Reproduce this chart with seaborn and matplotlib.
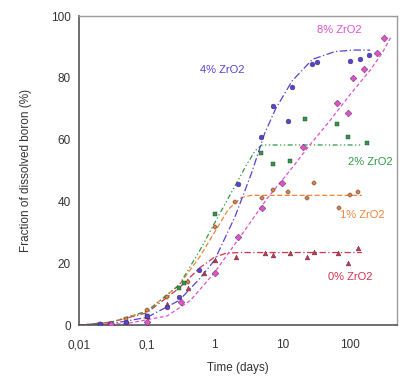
import numpy as np
import pandas as pd
import matplotlib
matplotlib.use("Agg")
import matplotlib.pyplot as plt
import seaborn as sns
from matplotlib.ticker import FixedLocator, FixedFormatter, LogLocator, NullFormatter

# ---- data ----
series = ["0% ZrO2", "1% ZrO2", "2% ZrO2", "4% ZrO2", "8% ZrO2"]
colors = ["#d2304e", "#f0843a", "#2f9a45", "#5a40d6", "#e050d0"]

t0 = [0.02, 0.05, 0.1, 0.2, 0.4, 0.7, 1.0, 2.1, 5.6, 7.3, 13, 23, 30, 66, 94, 134]
y0 = [0.5, 1.5, 3, 7, 12, 17, 21, 22, 23.3, 22.6, 23.3, 22, 23.6, 23.3, 20, 25]

t1 = [0.02, 0.05, 0.1, 0.2, 0.4, 1.0, 2.0, 5.0, 7.3, 12, 23, 30, 70, 100, 130]
y1 = [0.5, 2, 5, 9, 14, 31.7, 40, 41, 43.7, 43, 41, 46, 38, 42, 43]

t2 = [0.03, 0.1, 0.3, 0.35, 1.0, 4.8, 7.3, 13, 22, 65, 95, 180]
y2 = [0.5, 3, 12, 13.5, 36, 55.7, 52, 53, 66.7, 65, 61, 59]

t3 = [0.02, 0.05, 0.1, 0.2, 0.3, 0.6, 2.2, 4.8, 7.3, 12, 14, 28, 33, 100, 140, 190]
y3 = [0.5, 1, 3, 6, 9, 18, 45.6, 60.8, 71, 66, 77, 84.5, 85, 85.4, 86, 87.5]

t4 = [0.03, 0.1, 0.32, 1.0, 2.2, 5.0, 10, 20, 65, 95, 110, 160, 250, 320]
y4 = [0.5, 1, 7.4, 17, 28.5, 38, 46, 57.6, 72, 68.6, 80, 83, 88, 93]

# fitted curves (sampled by eye)
ft0 = [0.01, 0.03, 0.1, 0.3, 0.6, 1.0, 1.5, 2.5, 150]
fy0 = [0, 1, 4, 12, 18.5, 22, 23.3, 23.5, 23.5]
ft1 = [0.01, 0.03, 0.1, 0.3, 0.6, 1.0, 1.6, 2.5, 3.5, 150]
fy1 = [0, 1, 4.5, 13, 22, 30, 37.5, 41.3, 42, 42]
ft2 = [0.01, 0.03, 0.1, 0.3, 0.6, 1.0, 2.0, 3.0, 4.0, 5.0, 150]
fy2 = [0, 1, 4.5, 13, 24, 33, 45, 52, 56.5, 58.3, 58.3]
ft3 = [0.01, 0.03, 0.1, 0.3, 0.6, 1.0, 2.0, 3.5, 5.5, 8, 14, 28, 60, 110, 200]
fy3 = [0, 0.5, 2.5, 8, 15, 21, 35, 49, 62, 70, 79, 86, 88.5, 89, 89]
ft4 = [0.01, 0.05, 0.2, 0.44, 1.0, 2.8, 6, 13, 25, 50, 100, 200, 300, 400]
fy4 = [0, 0.5, 3, 8, 17, 30.7, 41, 50, 58, 66, 74.5, 82.5, 88, 93]

label_x = [100, 155, 200, 1.3, 71]
label_y = [15.5, 35.6, 52.8, 82.5, 95.5]

markers = ["^", "P", "s", "o", "D"]
linestyles = [(0, (5, 2, 1, 2)), (0, (4, 2)), (0, (4, 2, 1, 2, 1, 2)), (0, (6, 2, 1, 2)), (0, (3, 2))]

pts = pd.concat([
    pd.DataFrame({"t": t, "y": y, "s": s})
    for t, y, s in zip([t0, t1, t2, t3, t4], [y0, y1, y2, y3, y4], series)
], ignore_index=True)
fits = [pd.DataFrame({"t": t, "y": y}) for t, y in
        zip([ft0, ft1, ft2, ft3, ft4], [fy0, fy1, fy2, fy3, fy4])]

sns.set_theme(style="white")
plt.rcParams['font.family'] = ['Liberation Sans', 'DejaVu Sans']

fig = plt.figure(figsize=(4.04, 3.83), dpi=100)
ax = fig.add_axes([0.196, 0.151, 0.787, 0.807])

for i, s in enumerate(series):
    sns.lineplot(data=fits[i], x="t", y="y", ax=ax, color=colors[i],
                 linestyle=linestyles[i], linewidth=0.9, sort=False,
                 estimator=None, legend=False)
    sub = pts[pts["s"] == s]
    sns.scatterplot(data=sub, x="t", y="y", ax=ax, color=colors[i],
                    marker=markers[i], s=12, edgecolor="#333333",
                    linewidth=0.3, legend=False, zorder=3)
    ax.text(label_x[i], label_y[i], s, color=colors[i], fontsize=8,
            ha="center", va="center")

ax.set_xscale("log")
ax.set_xlim(0.01, 500)
ax.set_ylim(0, 100)
ax.xaxis.set_major_locator(FixedLocator([0.01, 0.1, 1, 10, 100]))
ax.xaxis.set_major_formatter(FixedFormatter(["0,01", "0,1", "1", "10", "100"]))
ax.xaxis.set_minor_locator(LogLocator(base=10, subs=np.arange(2, 10), numticks=20))
ax.xaxis.set_minor_formatter(NullFormatter())
ax.set_yticks([0, 20, 40, 60, 80, 100])
ax.tick_params(axis="both", which="both", direction="in", labelsize=8.5,
               colors="#444444", length=4, width=0.8)
ax.tick_params(axis="x", which="minor", length=2.5)
ax.tick_params(axis="x", which="major", pad=10)
ax.tick_params(axis="y", which="major", pad=6)
ax.tick_params(axis="both", labelcolor="#333333")
for sp in ["left", "bottom"]:
    ax.spines[sp].set_color("#555555")
    ax.spines[sp].set_linewidth(1.2)
for sp in ["top", "right"]:
    ax.spines[sp].set_color("#999999")
    ax.spines[sp].set_linewidth(1.0)
ax.set_xlabel("Time (days)", fontsize=8.5, color="#333333", labelpad=8)
ax.set_ylabel("Fraction of dissolved boron (%)", fontsize=8.5, color="#333333", labelpad=14)

fig.savefig("out.png", dpi=100)
